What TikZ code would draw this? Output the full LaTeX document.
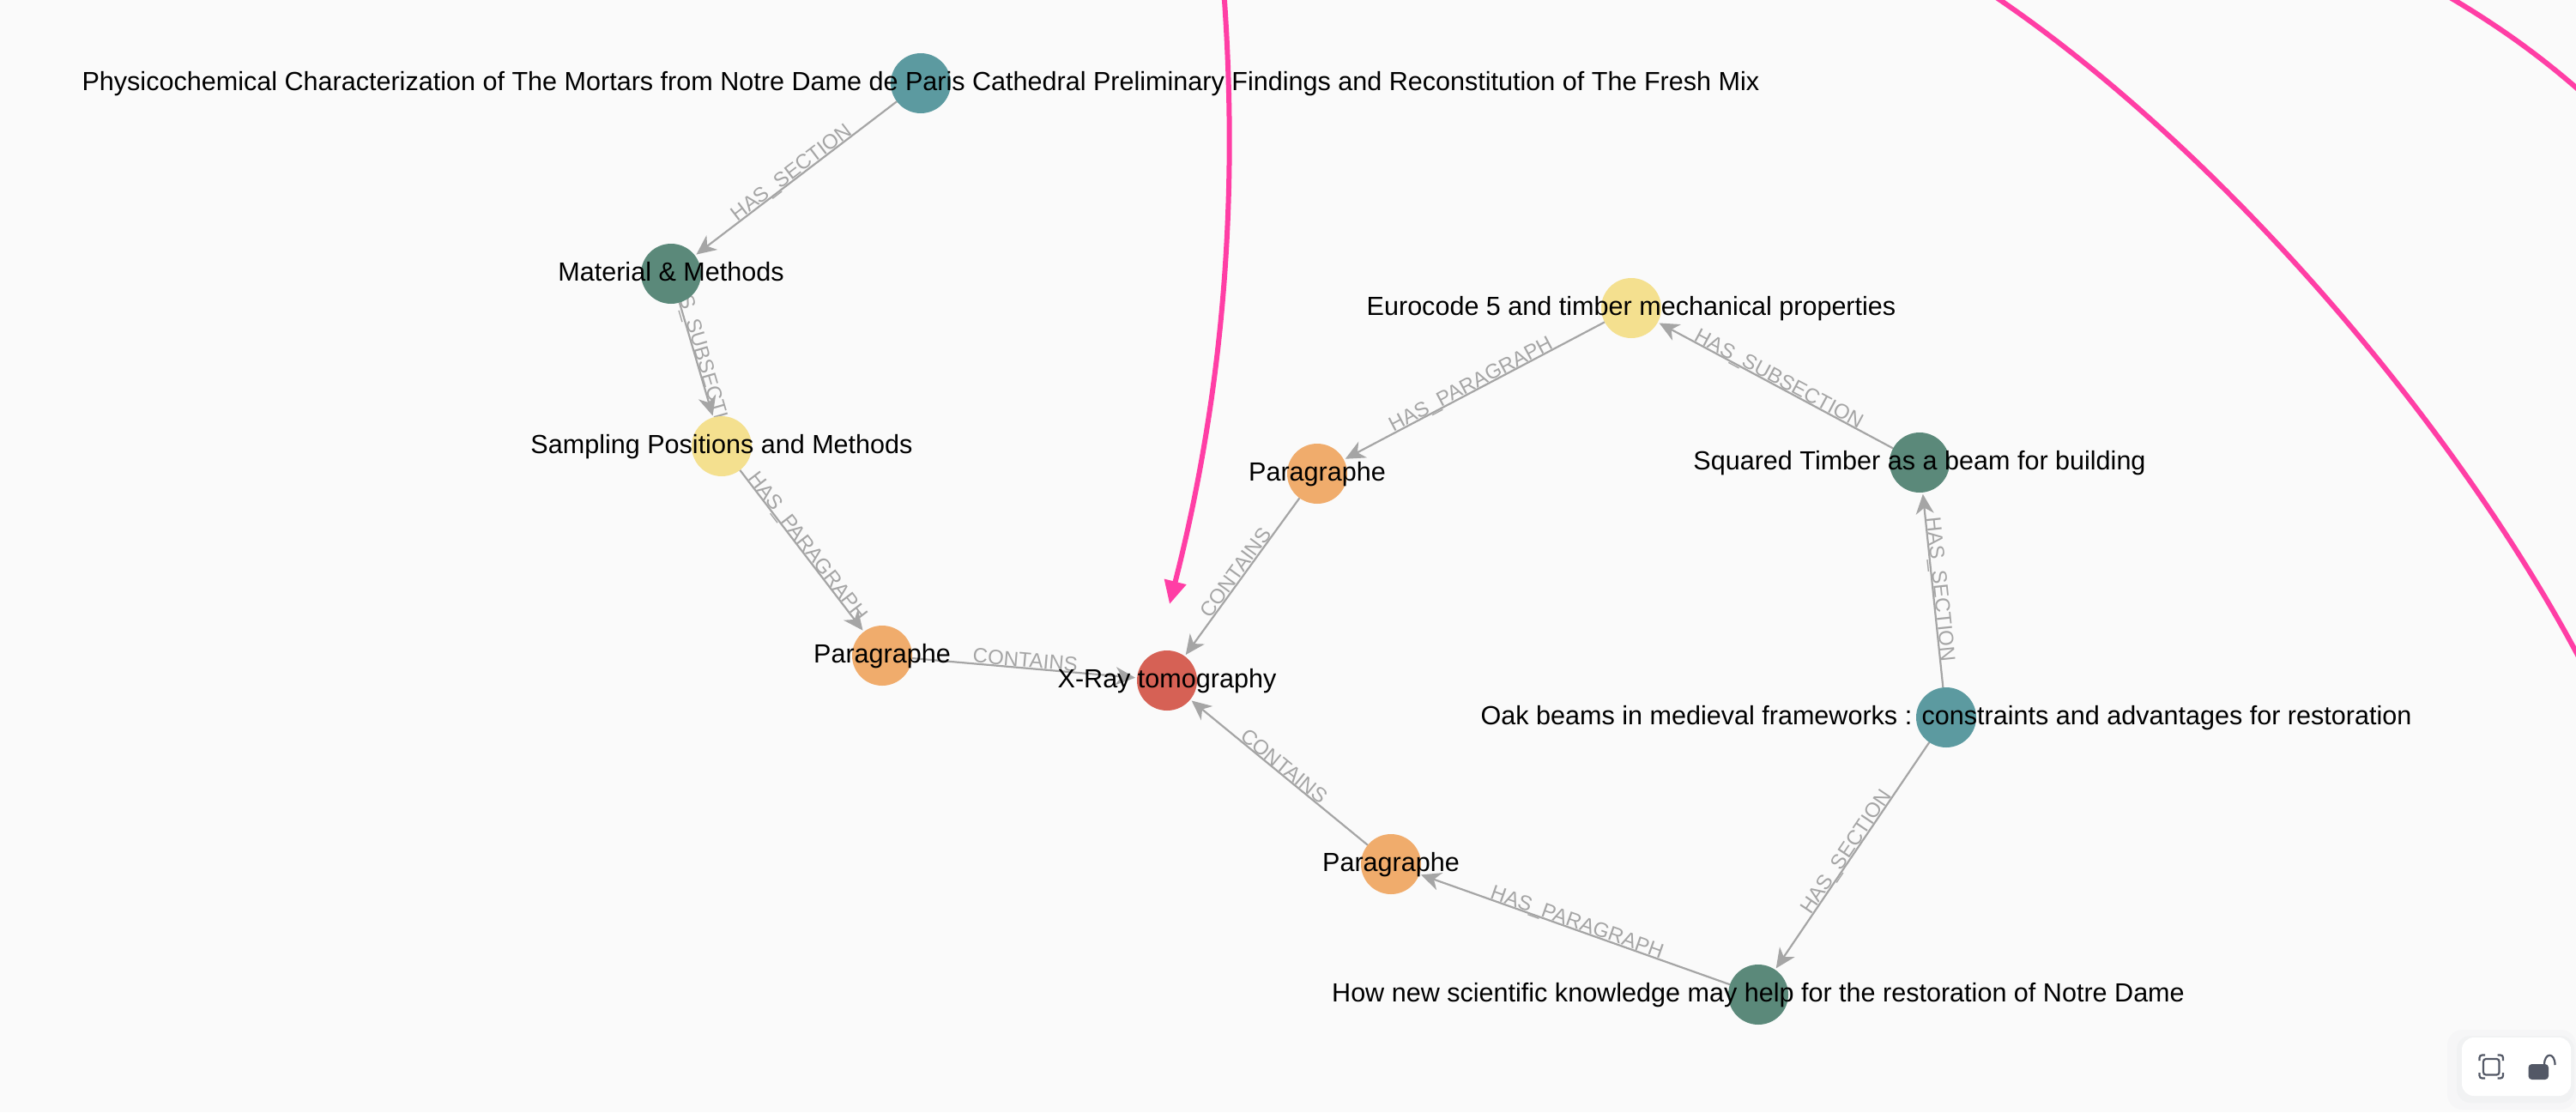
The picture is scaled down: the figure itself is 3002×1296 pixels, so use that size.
\documentclass[tikz,border=0pt]{standalone}
\usepackage{fontspec}
\setmainfont{Liberation Sans}
\usetikzlibrary{arrows.meta,calc}
\pgfdeclarelayer{edgelayer}
\pgfsetlayers{edgelayer,main}
\definecolor{bgc}{HTML}{FAFAFA}
\definecolor{edgec}{HTML}{A5A5A5}
\definecolor{labc}{HTML}{A5A5A5}
\definecolor{pinkc}{HTML}{FF3EA5}
\definecolor{teal1}{HTML}{5C9AA0}
\definecolor{green1}{HTML}{5B897A}
\definecolor{yellow1}{HTML}{F4E08F}
\definecolor{orange1}{HTML}{F0AC6C}
\definecolor{red1}{HTML}{D66155}
\definecolor{iconc}{HTML}{535866}
\definecolor{shadow1}{HTML}{F6F6F7}
\definecolor{shadow2}{HTML}{F1F2F3}
\tikzset{
  x=0.5pt,y=-0.5pt,
  gnode/.style={circle,minimum size=35pt,inner sep=0pt,outer sep=0pt,draw=none},
  ntext/.style={font=\fontsize{15.28}{15.28}\selectfont,text=black,inner sep=0pt,anchor=base,yshift=-4.2pt},
  rel/.style={draw=edgec,line width=1.1pt,-{Stealth[length=11.5pt,width=10.5pt,inset=3.5pt]},shorten >=1pt},
  rellab/.style={font=\fontsize{12}{12}\selectfont,text=labc,sloped,midway,anchor=base,inner sep=0pt,yshift=0.6pt},
  pinkedge/.style={draw=pinkc,line width=3pt},
}
\begin{document}
\begin{tikzpicture}
\useasboundingbox (0,0) rectangle (3002,1296);
\begin{pgfonlayer}{edgelayer}
\fill[bgc] (0,0) rectangle (3002,1296);
\end{pgfonlayer}
\node[gnode,fill=teal1] (phys) at (1073,97) {};
\node[gnode,fill=green1] (mat) at (782,319) {};
\node[gnode,fill=yellow1] (samp) at (841,520) {};
\node[gnode,fill=orange1] (par1) at (1028,764) {};
\node[gnode,fill=red1] (xray) at (1360,793) {};
\node[gnode,fill=orange1] (par2) at (1535,552) {};
\node[gnode,fill=yellow1] (euro) at (1901,359) {};
\node[gnode,fill=green1] (squared) at (2237,539) {};
\node[gnode,fill=teal1] (oak) at (2268,836) {};
\node[gnode,fill=orange1] (par3) at (1621,1007) {};
\node[gnode,fill=green1] (how) at (2049,1159) {};
\coordinate (p1a) at (1426.5,-6);
\coordinate (p1b) at (1363,704);
\coordinate (p2a) at (2322,-6);
\coordinate (p2b) at (3008,771);
\coordinate (p3a) at (2850,-6);
\coordinate (p3b) at (3010,109);
\begin{pgfonlayer}{edgelayer}
\draw[rel] (phys) -- node[rellab]{HAS\_SECTION} (mat);
\draw[rel] (mat) -- node[rellab]{HAS\_SUBSECTION} (samp);
\draw[rel] (samp) -- node[rellab]{HAS\_PARAGRAPH} (par1);
\draw[rel] (par1) -- node[rellab]{CONTAINS} (xray);
\draw[rel] (par2) -- node[rellab]{CONTAINS} (xray);
\draw[rel] (par3) -- node[rellab]{CONTAINS} (xray);
\draw[rel] (euro) -- node[rellab]{HAS\_PARAGRAPH} (par2);
\draw[rel] (squared) -- node[rellab]{HAS\_SUBSECTION} (euro);
\draw[rel] (oak) -- node[rellab]{HAS\_SECTION} (squared);
\draw[rel] (oak) -- node[rellab]{HAS\_SECTION} (how);
\draw[rel] (how) -- node[rellab]{HAS\_PARAGRAPH} (par3);
\end{pgfonlayer}
\node[ntext] at (phys) {Physicochemical Characterization of The Mortars from Notre Dame de Paris Cathedral Preliminary Findings and Reconstitution of The Fresh Mix};
\node[ntext] at (mat) {Material \& Methods};
\node[ntext] at (samp) {Sampling Positions and Methods};
\node[ntext] at (par1) {Paragraphe};
\node[ntext] at (xray) {X-Ray tomography};
\node[ntext] at (par2) {Paragraphe};
\node[ntext] at (euro) {Eurocode 5 and timber mechanical properties};
\node[ntext] at (squared) {Squared Timber as a beam for building};
\node[ntext] at (oak) {Oak beams in medieval frameworks : constraints and advantages for restoration};
\node[ntext] at (par3) {Paragraphe};
\node[ntext] at (how) {How new scientific knowledge may help for the restoration of Notre Dame};
\begin{scope}
\clip (0,0) rectangle (3002,1296);
\draw[pinkedge,-{Triangle[length=13.5pt,width=12.5pt]}] (p1a) .. controls (1444,240) and (1424,464) .. (p1b);
\draw[pinkedge] (p2a) .. controls (2595,178) and (2868,505) .. (p2b);
\draw[pinkedge] (p3a) .. controls (2908,28) and (2958,63) .. (p3b);
\end{scope}
% control panel
\fill[shadow1,rounded corners=9pt] (2852,1200) rectangle (3002,1293);
\fill[shadow2,rounded corners=8pt] (2863,1207) rectangle (3000,1285);
\fill[white,rounded corners=7pt] (2869,1209) rectangle (2996,1277);
\draw[iconc,line width=1.1pt,rounded corners=1.5pt] (2894,1234) rectangle (2912.5,1252.5);
\draw[iconc,line width=1.1pt,rounded corners=1.5pt] (2889.5,1236) -- (2889.5,1229.5) -- (2896,1229.5);
\draw[iconc,line width=1.1pt,rounded corners=1.5pt] (2910.5,1229.5) -- (2917,1229.5) -- (2917,1236);
\draw[iconc,line width=1.1pt,rounded corners=1.5pt] (2889.5,1250) -- (2889.5,1256.5) -- (2896,1256.5);
\draw[iconc,line width=1.1pt,rounded corners=1.5pt] (2910.5,1256.5) -- (2917,1256.5) -- (2917,1250);
\fill[iconc,rounded corners=2pt] (2946.5,1240) rectangle (2970,1258);
\draw[iconc,line width=1.1pt] (2965,1241) .. controls (2965,1226) and (2977.5,1226) .. (2977.5,1241);
\end{tikzpicture}
\end{document}
